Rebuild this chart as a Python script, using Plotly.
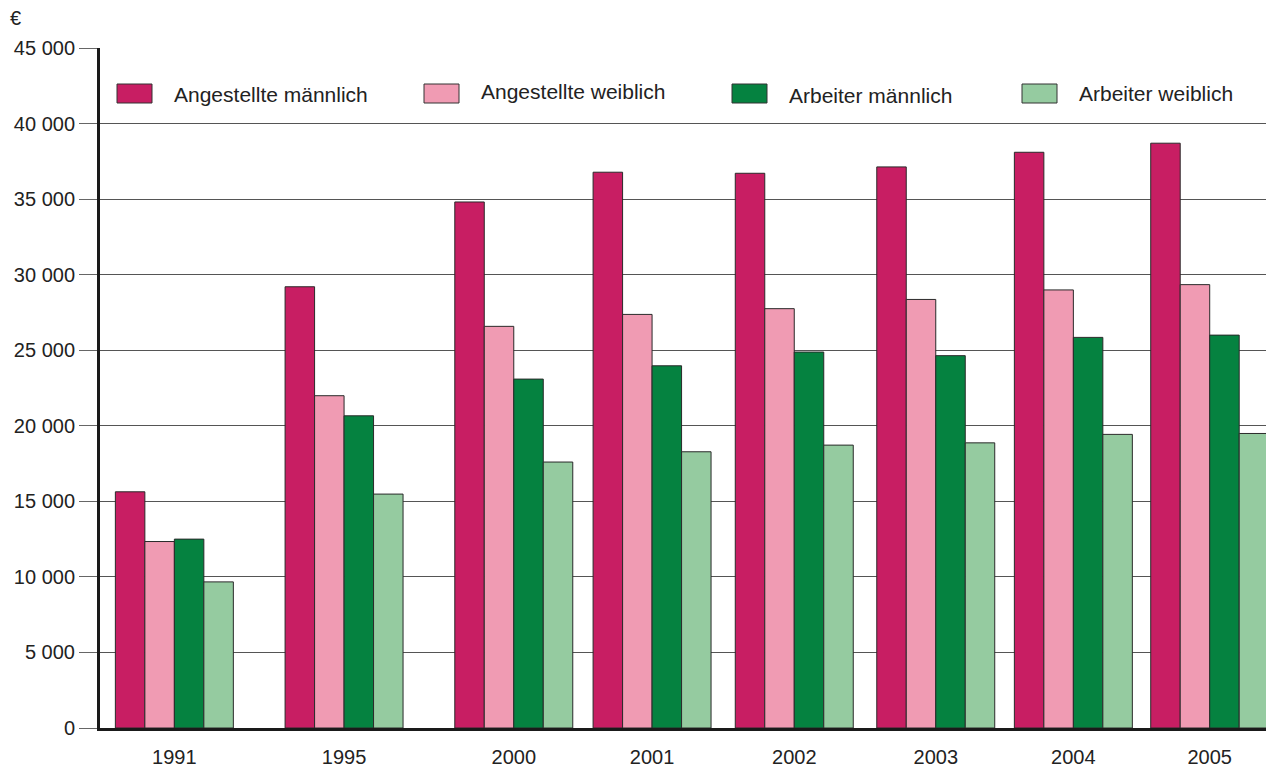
import plotly.graph_objects as go

years = ["1991", "1995", "2000", "2001", "2002", "2003", "2004", "2005"]
series_names = ["Angestellte männlich", "Angestellte weiblich", "Arbeiter männlich", "Arbeiter weiblich"]
angestellte_m = [15630, 29200, 34810, 36780, 36710, 37130, 38100, 38700]
angestellte_w = [12340, 21990, 26580, 27370, 27750, 28360, 28990, 29340]
arbeiter_m = [12500, 20660, 23090, 23970, 24880, 24640, 25850, 26000]
arbeiter_w = [9670, 15480, 17600, 18280, 18720, 18870, 19430, 19490]
y_tickvals = [0, 5000, 10000, 15000, 20000, 25000, 30000, 35000, 40000, 45000]
y_ticktext = ["0", "5 000", "10 000", "15 000", "20 000", "25 000", "30 000", "35 000", "40 000", "45 000"]

# layout: group slot centres along the (unevenly spaced) category axis
slot_pos = [0, 1.221, 2.442, 3.437, 4.460, 5.478, 6.468, 7.449]
colors = ["#C81E63", "#F09BB3", "#058240", "#95CBA0"]
values = [angestellte_m, angestellte_w, arbeiter_m, arbeiter_w]

bar_w = 0.2122
FONT = "Liberation Sans, Arial, sans-serif"

W, H = 1266, 769
ML, MR, MT, MB = 100, 0, 48, 41
PW, PH = W - ML - MR, H - MT - MB


def px_x(px):
    return (px - ML) / PW


def px_y(py):
    return (H - MB - py) / PH


fig = go.Figure()
for i, (name, vals, col) in enumerate(zip(series_names, values, colors)):
    fig.add_trace(go.Bar(
        x=slot_pos, y=vals, name=name,
        width=bar_w, offset=-2 * bar_w + i * bar_w,
        marker=dict(color=col, line=dict(color="#2a2a2a", width=1)),
    ))

# custom legend (swatch + label) placed inside the plot area
legend_left = [117, 424, 732, 1022]
legend_text_y = [95, 91, 96, 94]
shapes = []
annotations = []
for name, col, lx, ty in zip(series_names, colors, legend_left, legend_text_y):
    shapes.append(dict(type="rect", xref="paper", yref="paper",
                       x0=px_x(lx), x1=px_x(lx + 35), y0=px_y(103), y1=px_y(84),
                       fillcolor=col, line=dict(color="#333", width=1)))
    annotations.append(dict(text=name, xref="paper", yref="paper",
                            x=px_x(lx + 55), y=px_y(ty), xanchor="left", yanchor="middle",
                            showarrow=False, font=dict(size=21, color="#222")))

annotations.append(dict(text="€", xref="paper", yref="paper", x=px_x(16), y=px_y(18),
                        xanchor="center", yanchor="middle", showarrow=False,
                        font=dict(size=20, color="#222")))

fig.update_layout(
    width=W, height=H,
    barmode="overlay",
    plot_bgcolor="white", paper_bgcolor="white",
    margin=dict(l=ML, r=MR, t=MT, b=MB, autoexpand=False),
    font=dict(family=FONT, size=20, color="#222"),
    showlegend=False,
    xaxis=dict(
        range=[-0.535, 7.854], tickvals=slot_pos, ticktext=years,
        showgrid=False, zeroline=False, ticks="", ticklabelstandoff=9,
        showline=True, linecolor="#1a1a1a", linewidth=3,
        tickfont=dict(size=20), automargin=False,
    ),
    yaxis=dict(
        range=[0, 45000], tickvals=y_tickvals, ticktext=y_ticktext,
        showgrid=True, gridcolor="#555", gridwidth=1, zeroline=False,
        ticks="outside", ticklen=18, tickcolor="#666", tickwidth=1,
        ticklabelstandoff=0,
        showline=True, linecolor="#1a1a1a", linewidth=3,
        tickfont=dict(size=20), automargin=False,
    ),
    shapes=shapes,
    annotations=annotations,
)

fig.write_html("out.html", config={"displayModeBar": False},
               post_script="document.body.style.margin='0';document.body.style.overflow='hidden';")
